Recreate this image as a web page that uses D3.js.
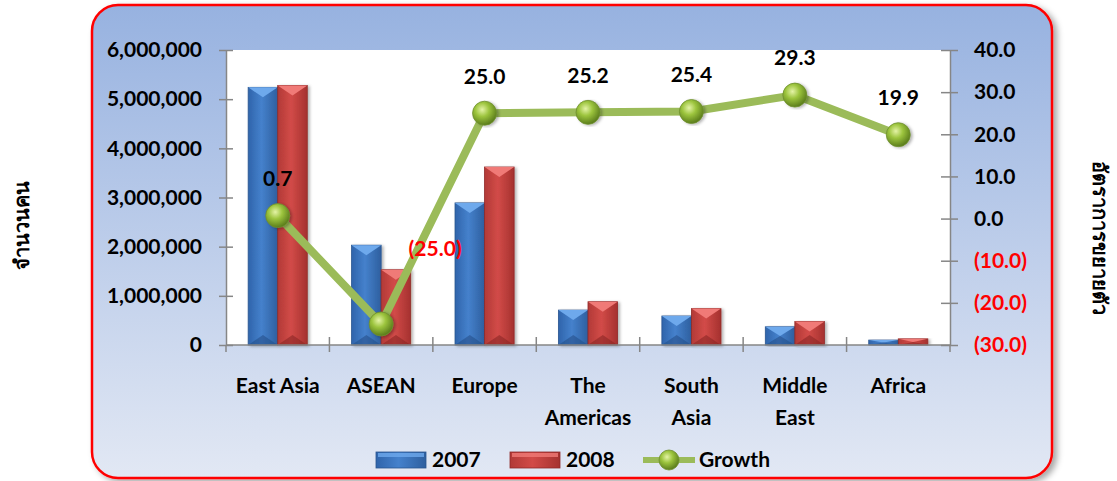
<!DOCTYPE html>
<html>
<head>
<meta charset="utf-8">
<script src="https://cdn.jsdelivr.net/npm/d3@7"></script>
<style>
  body { margin: 0; background: #fff; }
  svg text { font-family: Lato, "Open Sans", sans-serif; font-weight: bold; }
</style>
</head>
<body>
<div id="chart"></div>
<script>
var width = 1117;
var height = 481;

// data
var categories = ["East Asia", "ASEAN", "Europe", "The Americas", "South Asia", "Middle East", "Africa"];
var categoryLines = [["East Asia"], ["ASEAN"], ["Europe"], ["The", "Americas"], ["South", "Asia"], ["Middle", "East"], ["Africa"]];
var series = ["2007", "2008"];
var values2007 = [5240000, 2030000, 2890000, 710000, 590000, 370000, 100000];
var values2008 = [5280000, 1530000, 3620000, 880000, 740000, 480000, 125000];
var growth = [0.7, -25.0, 25.0, 25.2, 25.4, 29.3, 19.9];
var leftTicks = [0, 1000000, 2000000, 3000000, 4000000, 5000000, 6000000];
var rightTicks = [-30, -20, -10, 0, 10, 20, 30, 40];
var leftTitle = "จำนวนคน";
var rightTitle = "อัตราการขยายตัว";

// plot box
var plot = { left: 226, right: 950, top: 50, bottom: 345 };

var svg = d3.select("#chart").append("svg")
	.attr("width", width)
	.attr("height", height);

var defs = svg.append("defs");

var bg = defs.append("linearGradient").attr("id", "bg")
	.attr("x1", 0).attr("y1", 0).attr("x2", 0).attr("y2", 1);
bg.append("stop").attr("offset", "0%").attr("stop-color", "#97b2e0");
bg.append("stop").attr("offset", "100%").attr("stop-color", "#e2e8f4");

var shadow = defs.append("filter").attr("id", "shadow")
	.attr("x", "-5%").attr("y", "-5%").attr("width", "112%").attr("height", "115%");
shadow.append("feDropShadow").attr("dx", 4).attr("dy", 3)
	.attr("stdDeviation", 3).attr("flood-color", "#000").attr("flood-opacity", 0.35);

var barShadow = defs.append("filter").attr("id", "barShadow")
	.attr("x", "-20%").attr("y", "-5%").attr("width", "150%").attr("height", "115%");
barShadow.append("feDropShadow").attr("dx", 2).attr("dy", 1)
	.attr("stdDeviation", 1.5).attr("flood-color", "#000").attr("flood-opacity", 0.3);

function hGrad(id, a, b, c) {
	var g = defs.append("linearGradient").attr("id", id)
		.attr("x1", 0).attr("y1", 0).attr("x2", 1).attr("y2", 0);
	g.append("stop").attr("offset", "0%").attr("stop-color", a);
	g.append("stop").attr("offset", "45%").attr("stop-color", b);
	g.append("stop").attr("offset", "100%").attr("stop-color", c);
}
hGrad("blueBody", "#2f64ab", "#4581cc", "#2e5f9f");
hGrad("redBody", "#b23a37", "#d24b48", "#a5312f");

var ball = defs.append("radialGradient").attr("id", "ball")
	.attr("cx", "40%").attr("cy", "35%").attr("r", "65%");
ball.append("stop").attr("offset", "0%").attr("stop-color", "#e4f3a6");
ball.append("stop").attr("offset", "45%").attr("stop-color", "#9cc43d");
ball.append("stop").attr("offset", "100%").attr("stop-color", "#5b7d1c");

var barColors = {
	"2007": { body: "url(#blueBody)", top: "#6ea9ec", bottom: "#25508a", edge: "#2a558f" },
	"2008": { body: "url(#redBody)", top: "#f07a77", bottom: "#8a2624", edge: "#8f2a28" }
};

// chart frame
svg.append("rect")
	.attr("x", 92).attr("y", 5)
	.attr("width", 960).attr("height", 473)
	.attr("rx", 26).attr("ry", 26)
	.attr("fill", "url(#bg)")
	.attr("stroke", "#ff0000")
	.attr("stroke-width", 2.5)
	.attr("filter", "url(#shadow)");

svg.append("rect")
	.attr("x", plot.left).attr("y", plot.top)
	.attr("width", plot.right - plot.left).attr("height", plot.bottom - plot.top)
	.attr("fill", "#fff");

// scales
var x0 = d3.scaleBand().domain(categories).range([plot.left, plot.right]);
var x1 = d3.scaleBand().domain(series).range([0, x0.bandwidth()]).paddingOuter(0.75);
var yLeft = d3.scaleLinear().domain([0, 6000000]).range([plot.bottom, plot.top]);
var yRight = d3.scaleLinear().domain([-30, 40]).range([plot.bottom, plot.top]);

var rows = categories.map(function(c, i) {
	return { cat: c, lines: categoryLines[i], v: { "2007": values2007[i], "2008": values2008[i] }, g: growth[i] };
});

// bars
var barG = svg.append("g");
rows.forEach(function(r) {
	series.forEach(function(s) {
		var bx = x0(r.cat) + x1(s);
		var bw = x1.bandwidth();
		var top = yLeft(r.v[s]);
		var h = plot.bottom - top;
		var b = Math.min(10, h / 2);
		var col = barColors[s];
		var g = barG.append("g").attr("filter", "url(#barShadow)");
		g.append("rect")
			.attr("x", bx).attr("y", top)
			.attr("width", bw).attr("height", h)
			.attr("fill", col.body)
			.attr("stroke", col.edge).attr("stroke-width", 0.8);
		g.append("path")
			.attr("d", "M" + bx + "," + top + "L" + (bx + bw) + "," + top + "L" + (bx + bw / 2) + "," + (top + b) + "Z")
			.attr("fill", col.top);
		g.append("path")
			.attr("d", "M" + bx + "," + plot.bottom + "L" + (bx + bw) + "," + plot.bottom + "L" + (bx + bw / 2) + "," + (plot.bottom - b) + "Z")
			.attr("fill", col.bottom).attr("opacity", 0.6);
	});
});

// axes
var axisColor = "#868686";
var leftAxis = svg.append("g")
	.attr("transform", "translate(" + plot.left + ",0)")
	.call(d3.axisLeft(yLeft).tickValues(leftTicks).tickFormat(d3.format(",")).tickSize(7).tickSizeOuter(0).tickPadding(17));
leftAxis.selectAll(".tick").append("line").attr("x2", 7);

var rightAxis = svg.append("g")
	.attr("transform", "translate(" + plot.right + ",0)")
	.call(d3.axisRight(yRight).tickValues(rightTicks)
		.tickFormat(function(d) { return d < 0 ? "(" + Math.abs(d).toFixed(1) + ")" : d.toFixed(1); })
		.tickSize(8).tickSizeOuter(0).tickPadding(16));
rightAxis.selectAll(".tick").append("line").attr("x2", -9);
rightAxis.selectAll(".tick text").attr("fill", function(d) { return d < 0 ? "#ff0000" : "#000"; });

[leftAxis, rightAxis].forEach(function(a) {
	a.select(".domain").attr("stroke", axisColor).attr("stroke-width", 1.5);
	a.selectAll(".tick line").attr("stroke", axisColor).attr("stroke-width", 1.5);
	a.selectAll(".tick text").attr("font-size", 21).attr("font-family", "Lato, sans-serif").attr("font-weight", "bold");
});
leftAxis.selectAll(".tick text").attr("fill", "#000");

// category axis
var bottomG = svg.append("g");
bottomG.append("line")
	.attr("x1", plot.left).attr("x2", plot.right)
	.attr("y1", plot.bottom).attr("y2", plot.bottom)
	.attr("stroke", axisColor).attr("stroke-width", 1.5);
var bounds = categories.map(function(c) { return x0(c); }).concat([plot.right]);
bottomG.selectAll(".ctick").data(bounds).enter().append("line")
	.attr("x1", function(d) { return d; }).attr("x2", function(d) { return d; })
	.attr("y1", function(d, i) { return (i === 0 || i === bounds.length - 1) ? plot.bottom : plot.bottom - 8; })
	.attr("y2", plot.bottom + 7)
	.attr("stroke", axisColor).attr("stroke-width", 1.5);

var catText = bottomG.selectAll(".cat").data(rows).enter().append("text")
	.attr("x", function(d) { return x0(d.cat) + x0.bandwidth() / 2; })
	.attr("y", 393)
	.attr("text-anchor", "middle")
	.attr("font-size", 21);
catText.selectAll("tspan").data(function(d) { return d.lines; }).enter().append("tspan")
	.attr("x", function() { return d3.select(this.parentNode).attr("x"); })
	.attr("dy", function(d, i) { return i === 0 ? 0 : 32; })
	.text(function(d) { return d; });

// growth line
var cx = function(d) { return x0(d.cat) + x0.bandwidth() / 2; };
var line = d3.line().x(cx).y(function(d) { return yRight(d.g); });
svg.append("path")
	.datum(rows)
	.attr("d", line)
	.attr("fill", "none")
	.attr("stroke", "#9bbb59")
	.attr("stroke-width", 8)
	.attr("stroke-linejoin", "round");

svg.selectAll(".marker").data(rows).enter().append("circle")
	.attr("cx", cx)
	.attr("cy", function(d) { return yRight(d.g); })
	.attr("r", 12)
	.attr("fill", "url(#ball)")
	.attr("stroke", "#6f8f2e").attr("stroke-width", 0.8)
	.attr("filter", "url(#barShadow)");

// growth labels: negatives sit up and to the right of the marker
svg.selectAll(".glabel").data(rows).enter().append("text")
	.attr("x", function(d) { return cx(d) + (d.g < 0 ? 54 : 0); })
	.attr("y", function(d) { return yRight(d.g) - (d.g < 0 ? 75 : 37); })
	.attr("dy", "0.35em")
	.attr("text-anchor", "middle")
	.attr("font-size", 21)
	.attr("fill", function(d) { return d.g < 0 ? "#ff0000" : "#000"; })
	.text(function(d) { return d.g < 0 ? "(" + Math.abs(d.g).toFixed(1) + ")" : d.g.toFixed(1); });

// axis titles
svg.append("text")
	.attr("transform", "translate(22,225) rotate(-90)")
	.attr("text-anchor", "middle")
	.attr("dy", "0.35em")
	.attr("font-size", 20)
	.style("font-family", "Tahoma, 'Noto Sans', 'DejaVu Sans', sans-serif")
	.style("font-weight", "bold")
	.text(leftTitle);
svg.append("text")
	.attr("transform", "translate(1100,238) rotate(90)")
	.attr("text-anchor", "middle")
	.attr("dy", "0.35em")
	.attr("font-size", 20)
	.style("font-family", "Tahoma, 'Noto Sans', 'DejaVu Sans', sans-serif")
	.style("font-weight", "bold")
	.text(rightTitle);

// legend
var legend = svg.append("g").attr("transform", "translate(0,460)");
series.forEach(function(s, i) {
	var lx = 376 + i * 134;
	var col = barColors[s];
	legend.append("rect")
		.attr("x", lx).attr("y", -8).attr("width", 50).attr("height", 16)
		.attr("fill", col.body).attr("stroke", col.edge).attr("stroke-width", 0.8);
	legend.append("rect")
		.attr("x", lx + 2).attr("y", -7).attr("width", 46).attr("height", 4)
		.attr("fill", col.top).attr("opacity", 0.8);
	legend.append("text")
		.attr("x", lx + 56).attr("y", 0).attr("dy", "0.35em")
		.attr("font-size", 21)
		.text(s);
});
legend.append("line")
	.attr("x1", 643).attr("x2", 695).attr("y1", 0).attr("y2", 0)
	.attr("stroke", "#9bbb59").attr("stroke-width", 6);
legend.append("circle")
	.attr("cx", 669).attr("cy", 0).attr("r", 10)
	.attr("fill", "url(#ball)").attr("stroke", "#6f8f2e").attr("stroke-width", 0.8);
legend.append("text")
	.attr("x", 699).attr("y", 0).attr("dy", "0.35em")
	.attr("font-size", 21)
	.text("Growth");
</script>
</body>
</html>
